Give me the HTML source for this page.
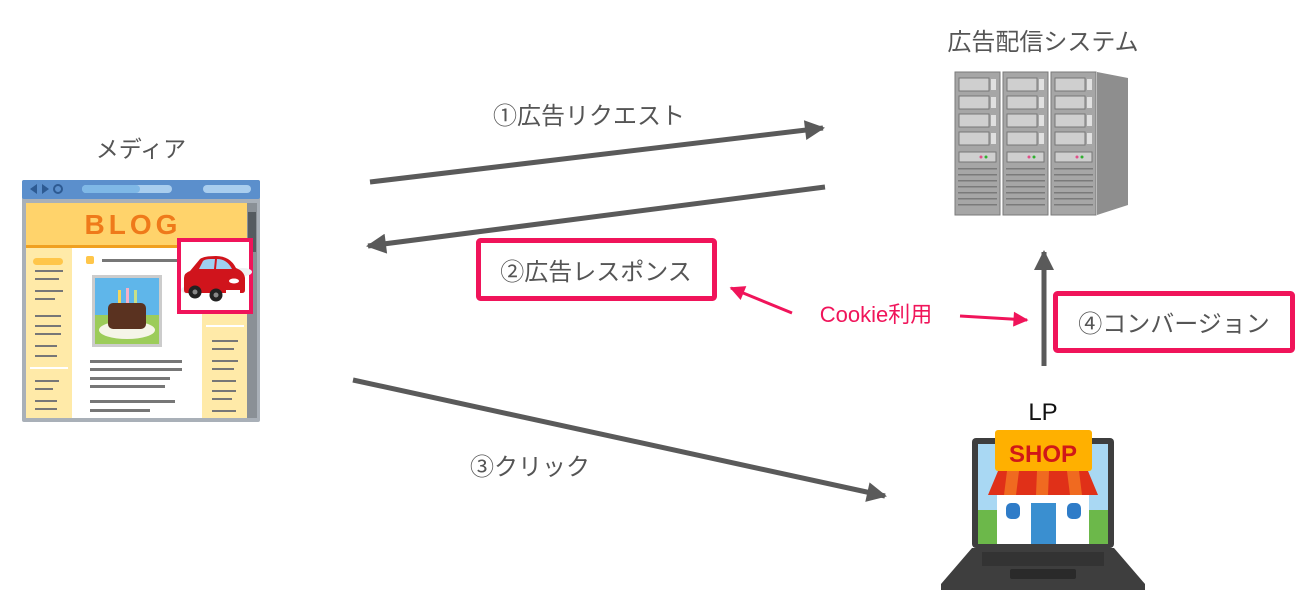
<!DOCTYPE html>
<html><head><meta charset="utf-8">
<style>
html,body{margin:0;padding:0;background:#fff;}
body{width:1309px;height:610px;overflow:hidden;}
text{font-family:"Liberation Sans","Noto Sans CJK JP",sans-serif;}
</style></head><body>
<svg width="1309" height="610" viewBox="0 0 1309 610" xmlns="http://www.w3.org/2000/svg">
<defs>
<marker id="ag" viewBox="0 0 10 10" refX="9" refY="5" markerWidth="5.5" markerHeight="4" orient="auto" markerUnits="strokeWidth"><path d="M0,0 L10,5 L0,10 z" fill="#5a5a5a"/></marker>
<marker id="ap" viewBox="0 0 10 10" refX="9" refY="5" markerWidth="6.5" markerHeight="5" orient="auto" markerUnits="strokeWidth"><path d="M0,0 L10,5 L0,10 z" fill="#f0145a"/></marker>
</defs>

<text x="141" y="157" font-size="23" fill="#555" text-anchor="middle">メディア</text>
<text x="1043" y="50" font-size="24" fill="#555" text-anchor="middle">広告配信システム</text>
<text x="589" y="124" font-size="24" fill="#555" text-anchor="middle">①広告リクエスト</text>
<text x="530" y="475" font-size="24" fill="#555" text-anchor="middle">③クリック</text>
<text x="1043" y="420" font-size="24" fill="#111" text-anchor="middle">LP</text>

<line x1="370" y1="182" x2="823" y2="128" stroke="#5a5a5a" stroke-width="5" marker-end="url(#ag)"/>
<line x1="825" y1="187" x2="368" y2="246" stroke="#5a5a5a" stroke-width="5" marker-end="url(#ag)"/>
<line x1="353" y1="380" x2="885" y2="496" stroke="#5a5a5a" stroke-width="5" marker-end="url(#ag)"/>
<line x1="1044" y1="366" x2="1044" y2="252" stroke="#5a5a5a" stroke-width="5" marker-end="url(#ag)"/>

<rect x="478.5" y="240.5" width="236" height="58" fill="#fff" stroke="#f0145a" stroke-width="5" rx="2"/>
<text x="596" y="280" font-size="24" fill="#555" text-anchor="middle">②広告レスポンス</text>
<rect x="1055.5" y="293.5" width="237" height="57" fill="#fff" stroke="#f0145a" stroke-width="5" rx="2"/>
<text x="1174" y="332" font-size="24" fill="#555" text-anchor="middle">④コンバージョン</text>
<text x="876" y="322" font-size="22" fill="#f0145a" text-anchor="middle">Cookie利用</text>
<line x1="792" y1="313" x2="731" y2="288" stroke="#f0145a" stroke-width="3" marker-end="url(#ap)"/>
<line x1="960" y1="316" x2="1027" y2="320" stroke="#f0145a" stroke-width="3" marker-end="url(#ap)"/>

<g>
<rect x="22" y="180" width="238" height="242" fill="#a9b0b8" rx="2"/>
<rect x="22" y="180" width="238" height="19" fill="#5b8fcc" rx="2"/>
<path d="M30,189 l7,-5 v10 z M42,184 l7,5 -7,5 z" fill="#2d5a92"/>
<circle cx="58" cy="189" r="4" fill="none" stroke="#2d5a92" stroke-width="2"/>
<rect x="82" y="185" width="90" height="8" rx="4" fill="#a9cdee"/>
<rect x="82" y="185" width="58" height="8" rx="4" fill="#7fb8e6"/>
<rect x="203" y="185" width="48" height="8" rx="4" fill="#a9cdee"/>
<rect x="26" y="203" width="221" height="215" fill="#fff"/>
<rect x="26" y="203" width="221" height="42" fill="#ffd36b"/>
<rect x="26" y="245" width="221" height="3" fill="#f0a020"/>
<text x="133" y="234" font-size="28" font-weight="bold" fill="#ef7a1a" text-anchor="middle" letter-spacing="4">BLOG</text>
<rect x="26" y="248" width="46" height="170" fill="#ffeaa8"/>
<rect x="202" y="248" width="45" height="170" fill="#ffeaa8"/>
<rect x="247" y="203" width="10" height="215" fill="#8a9096"/>
<rect x="248" y="212" width="8" height="40" fill="#555b60"/>
<g fill="#777">
<rect x="35" y="270" width="28" height="2"/><rect x="35" y="278" width="24" height="2"/><rect x="35" y="290" width="28" height="2"/><rect x="35" y="298" width="20" height="2"/><rect x="35" y="315" width="26" height="2"/><rect x="35" y="325" width="26" height="2"/><rect x="35" y="333" width="26" height="2"/><rect x="35" y="345" width="22" height="2"/><rect x="35" y="355" width="22" height="2"/><rect x="35" y="380" width="24" height="2"/><rect x="35" y="388" width="18" height="2"/><rect x="35" y="400" width="22" height="2"/><rect x="35" y="408" width="22" height="2"/>
<rect x="212" y="340" width="26" height="2"/><rect x="212" y="348" width="22" height="2"/><rect x="212" y="360" width="26" height="2"/><rect x="212" y="368" width="22" height="2"/><rect x="212" y="380" width="24" height="2"/><rect x="212" y="390" width="24" height="2"/><rect x="212" y="398" width="20" height="2"/><rect x="212" y="410" width="24" height="2"/>
<rect x="102" y="259" width="75" height="3"/>
<rect x="90" y="360" width="92" height="3"/><rect x="90" y="368" width="92" height="3"/><rect x="90" y="377" width="80" height="3"/><rect x="90" y="385" width="75" height="3"/><rect x="90" y="400" width="85" height="3"/><rect x="90" y="409" width="60" height="3"/>
</g>
<rect x="33" y="258" width="30" height="7" rx="3.5" fill="#ffc64a"/>
<rect x="30" y="367" width="38" height="2" fill="#fff"/>
<rect x="206" y="325" width="38" height="2" fill="#fff"/>
<rect x="86" y="256" width="8" height="8" rx="2" fill="#ffc64a"/>
<rect x="92" y="275" width="70" height="72" fill="#ccc"/>
<rect x="95" y="278" width="64" height="66" fill="#5fb6ea"/>
<rect x="95" y="315" width="64" height="29" fill="#9ccc5a"/>
<ellipse cx="127" cy="330" rx="28" ry="9" fill="#f5f5e8"/>
<rect x="108" y="303" width="38" height="26" rx="5" fill="#5a3220"/>
<rect x="118" y="290" width="3" height="13" fill="#f5d65a"/><rect x="126" y="288" width="3" height="15" fill="#f5b0c8"/><rect x="134" y="290" width="3" height="13" fill="#c8e088"/>
</g>
<rect x="179" y="240" width="72" height="72" fill="#fff" stroke="#f0145a" stroke-width="4"/>
<ellipse cx="190" cy="290" rx="9" ry="4" fill="#eef0f2"/>
<ellipse cx="243" cy="272" rx="9" ry="4" fill="#eef0f2"/>
<path d="M184,278 q0,-5 6,-7 l10,-12 q4,-3 16,-3 q14,0 20,12 q8,3 9,10 l0,12 q0,3 -3,3 h-55 q-3,0 -3,-3 z" fill="#d0141c"/>
<path d="M203,261 q2,-2 8,-2 h4 l-1,10 h-15 z M217,259 q10,0 15,10 h-16 z" fill="#9fcff0"/>
<ellipse cx="234" cy="281" rx="5" ry="2.5" fill="#fff"/>
<rect x="226" y="290" width="14" height="4" fill="#fff"/>
<circle cx="195" cy="292" r="6.5" fill="#222"/><circle cx="216" cy="295" r="6.5" fill="#222"/>
<circle cx="195" cy="292" r="2.5" fill="#888"/><circle cx="216" cy="295" r="2.5" fill="#888"/>

<g>
<path d="M1097,72 L1128,78 L1128,205 L1097,215 Z" fill="#8e8e8e"/>
<g id="rack">
<rect x="955" y="72" width="45" height="143" fill="#a6a6a6" stroke="#7a7a7a" stroke-width="1"/>
<g fill="#cfcfcf" stroke="#777" stroke-width="1">
<rect x="959" y="78" width="30" height="13"/><rect x="959" y="96" width="30" height="13"/><rect x="959" y="114" width="30" height="13"/><rect x="959" y="132" width="30" height="13"/>
<rect x="959" y="152" width="37" height="10"/>
</g>
<g fill="#e0e0e0"><rect x="991" y="79" width="5" height="11"/><rect x="991" y="97" width="5" height="11"/><rect x="991" y="115" width="5" height="11"/><rect x="991" y="133" width="5" height="11"/></g>
<circle cx="981" cy="157" r="1.5" fill="#e0508a"/><circle cx="986" cy="157" r="1.5" fill="#30b030"/>
<g fill="#7a7a7a"><rect x="958" y="168" width="39" height="1.5"/><rect x="958" y="174" width="39" height="1.5"/><rect x="958" y="180" width="39" height="1.5"/><rect x="958" y="186" width="39" height="1.5"/><rect x="958" y="192" width="39" height="1.5"/><rect x="958" y="198" width="39" height="1.5"/><rect x="958" y="204" width="39" height="1.5"/></g>
</g>
<use href="#rack" x="48"/>
<use href="#rack" x="96"/>
</g>

<g>
<rect x="972" y="438" width="142" height="110" rx="4" fill="#3e3e3e"/>
<rect x="978" y="444" width="130" height="100" fill="#a9d8f3"/>
<rect x="978" y="510" width="130" height="34" fill="#6cb84a"/>
<rect x="997" y="492" width="92" height="52" fill="#fff"/>
<path d="M988,495 l10,-24 h90 l10,24 z" fill="#e03018"/>
<path d="M1007,471 h12 l-3,24 h-12 z M1037,471 h12 l-1,24 h-12 z M1067,471 h12 l3,24 h-12 z" fill="#f06a20"/>
<rect x="995" y="430" width="97" height="41" rx="3" fill="#ffb000"/>
<text x="1043" y="462" font-size="24" font-weight="bold" fill="#d01818" text-anchor="middle">SHOP</text>
<rect x="1031" y="503" width="25" height="41" fill="#3a8fd0"/>
<rect x="1006" y="503" width="14" height="16" rx="5" fill="#2f7cc8"/>
<rect x="1067" y="503" width="14" height="16" rx="5" fill="#2f7cc8"/>
<path d="M972,548 h142 l31,36 v6 h-204 v-6 z" fill="#3e3e3e"/>
<rect x="982" y="552" width="122" height="14" fill="#333"/>
<rect x="1010" y="569" width="66" height="10" rx="2" fill="#2a2a2a"/>
</g>
</svg>
</body></html>
